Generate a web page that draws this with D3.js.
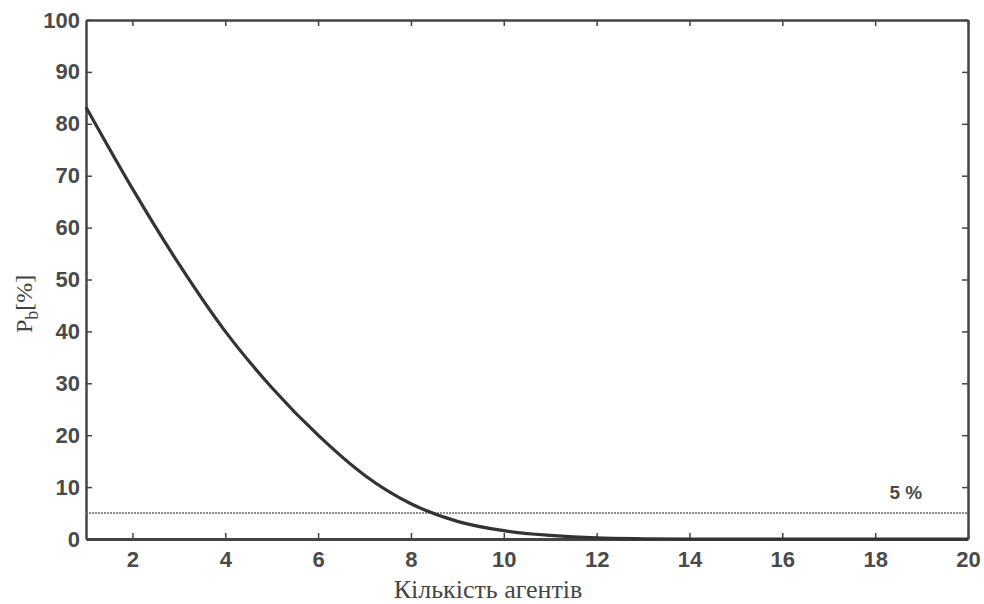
<!DOCTYPE html>
<html>
<head>
<meta charset="utf-8">
<script src="https://cdn.jsdelivr.net/npm/d3@7"></script>
<style>
  body { margin: 0; background: #fff; }
  .tick text { font-family: "Liberation Sans", Arial, sans-serif; font-weight: bold; font-size: 22px; fill: #4a4a4a; }
</style>
</head>
<body>
<script>
// number of agents vs blocking probability
const agents = [1, 2, 3, 4, 5, 6, 7, 8, 9, 10, 11, 12, 13, 14, 15, 16, 17, 18, 19, 20];
const pb = [83.2, 67.5, 53, 40, 29.2, 20, 12.3, 6.8, 3.4, 1.6, 0.7, 0.2, 0.05, 0, 0, 0, 0, 0, 0, 0];
const xTicks = [2, 4, 6, 8, 10, 12, 14, 16, 18, 20];
const yTicks = [0, 10, 20, 30, 40, 50, 60, 70, 80, 90, 100];
const threshold = 5;

const width = 984,
  height = 604,
  margin = { top: 20, right: 16, bottom: 65, left: 86 };

const x = d3.scaleLinear([1, 20], [margin.left, width - margin.right]);
const y = d3.scaleLinear([0, 100], [height - margin.bottom, margin.top]);

const svg = d3.select("body").append("svg")
    .attr("width", width)
    .attr("height", height);

const axisColor = "#444";

// inward ticks on all four sides, like matlab
const gBottom = svg.append("g")
    .attr("transform", "translate(0," + y(0) + ")")
    .call(d3.axisBottom(x).tickValues(xTicks).tickSizeInner(-6).tickSizeOuter(0).tickPadding(12));
const gLeft = svg.append("g")
    .attr("transform", "translate(" + x(1) + ",0)")
    .call(d3.axisLeft(y).tickValues(yTicks).tickSizeInner(-6).tickSizeOuter(0).tickPadding(6));
const gTop = svg.append("g")
    .attr("transform", "translate(0," + y(100) + ")")
    .call(d3.axisTop(x).tickValues(xTicks).tickSizeInner(-6).tickSizeOuter(0).tickFormat(""));
const gRight = svg.append("g")
    .attr("transform", "translate(" + x(20) + ",0)")
    .call(d3.axisRight(y).tickValues(yTicks).tickSizeInner(-6).tickSizeOuter(0).tickFormat(""));

[gBottom, gLeft, gTop, gRight].forEach(g => {
  g.select(".domain").attr("stroke", axisColor).attr("stroke-width", 2.5);
  g.selectAll(".tick line").attr("stroke", axisColor).attr("stroke-width", 1.5);
});
gBottom.select(".domain").attr("stroke-width", 3);

// 5% threshold line
svg.append("line")
    .attr("x1", x(1))
    .attr("x2", x(20))
    .attr("y1", y(threshold))
    .attr("y2", y(threshold))
    .attr("stroke", "#6a6a6a")
    .attr("stroke-width", 1.6)
    .attr("stroke-dasharray", "2,1");

svg.append("text")
    .attr("x", x(18.66))
    .attr("y", y(threshold) - 14)
    .attr("text-anchor", "middle")
    .attr("font-family", "Liberation Sans, Arial, sans-serif")
    .attr("font-weight", "bold")
    .attr("font-size", 19)
    .attr("fill", "#4a4a4a")
    .text("5 %");

const line = d3.line()
    .x((d, i) => x(agents[i]))
    .y(d => y(d))
    .curve(d3.curveMonotoneX);

svg.append("path")
    .attr("d", line(pb))
    .attr("fill", "none")
    .attr("stroke", "#333")
    .attr("stroke-width", 3.2);

// axis titles
svg.append("text")
    .attr("x", 488)
    .attr("y", 598)
    .attr("text-anchor", "middle")
    .attr("font-family", "Liberation Serif, Times New Roman, serif")
    .attr("font-size", 26)
    .attr("fill", "#444")
    .text("Кількість агентів");

const ylab = svg.append("text")
    .attr("transform", "translate(32," + y(45.3) + ") rotate(-90)")
    .attr("text-anchor", "middle")
    .attr("font-family", "Liberation Serif, Times New Roman, serif")
    .attr("font-size", 24)
    .attr("fill", "#444");
ylab.append("tspan").text("P");
ylab.append("tspan").attr("font-size", 18).attr("dy", 6).text("b");
ylab.append("tspan").attr("dy", -6).text("[%]");
</script>
</body>
</html>
